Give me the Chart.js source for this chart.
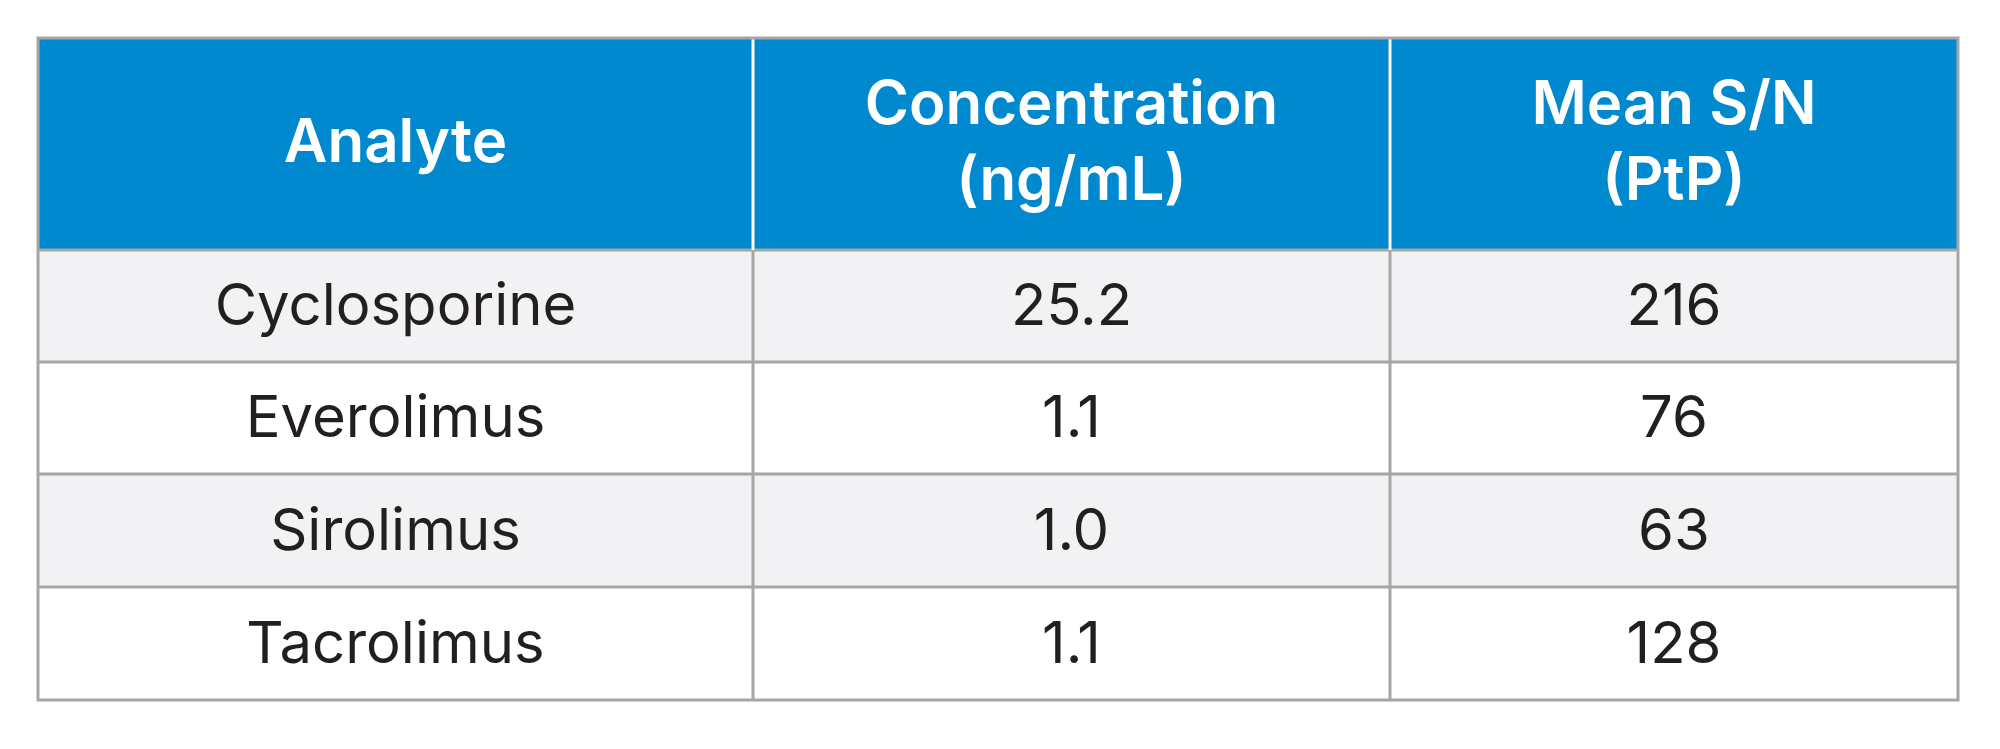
<!DOCTYPE html>
<html><head><meta charset="utf-8">
<script src="https://cdn.jsdelivr.net/npm/chart.js@4/dist/chart.umd.min.js"></script>
<style>html,body{margin:0;padding:0;background:#fff}#w{width:2000px;height:749px}</style>
</head><body><div id="w"><canvas id="c"></canvas></div>
<script>
const headers = [["Analyte"], ["Concentration", "(ng/mL)"], ["Mean S/N", "(PtP)"]];
const analytes = ["Cyclosporine", "Everolimus", "Sirolimus", "Tacrolimus"];
const concentration = ["25.2", "1.1", "1.0", "1.1"];
const meanSN = ["216", "76", "63", "128"];

// layout (table units): column boundaries and row boundaries
const colEdges = [0, 715, 1352, 1920];
const rowEdges = [0, 212, 324, 436, 549, 662];

const tablePlugin = {
  id: 'table',
  afterDraw(chart) {
    const ctx = chart.ctx, xs = chart.scales.x, ys = chart.scales.y;
    const X = v => xs.getPixelForValue(v), Y = v => ys.getPixelForValue(v);
    const cols = [analytes, concentration, meanSN];
    ctx.save();
    // header
    ctx.fillStyle = '#0089cf';
    ctx.fillRect(X(0), Y(0), X(1920) - X(0), Y(212) - Y(0));
    for (let r = 0; r < analytes.length; r++) {
      ctx.fillStyle = r % 2 === 0 ? '#f2f2f4' : '#ffffff';
      ctx.fillRect(X(0), Y(rowEdges[r+1]), X(1920) - X(0), Y(rowEdges[r+2]) - Y(rowEdges[r+1]));
    }
    // grid lines
    ctx.strokeStyle = '#a6a6a6'; ctx.lineWidth = 3;
    for (let r = 1; r < rowEdges.length - 1; r++) {
      ctx.beginPath(); ctx.moveTo(X(0), Y(rowEdges[r])); ctx.lineTo(X(1920), Y(rowEdges[r])); ctx.stroke();
    }
    for (let c = 1; c < colEdges.length - 1; c++) {
      ctx.strokeStyle = '#ffffff';
      ctx.beginPath(); ctx.moveTo(X(colEdges[c]), Y(0)); ctx.lineTo(X(colEdges[c]), Y(212)); ctx.stroke();
      ctx.strokeStyle = '#a6a6a6';
      ctx.beginPath(); ctx.moveTo(X(colEdges[c]), Y(212)); ctx.lineTo(X(colEdges[c]), Y(662)); ctx.stroke();
    }
    ctx.strokeStyle = '#a6a6a6';
    ctx.strokeRect(X(0), Y(0), X(1920) - X(0), Y(662) - Y(0));
    // text
    ctx.textAlign = 'center'; ctx.textBaseline = 'middle';
    ctx.fillStyle = '#ffffff'; ctx.font = '600 60px Inter, Roboto, sans-serif';
    headers.forEach((h, c) => {
      const cx = X((colEdges[c] + colEdges[c+1]) / 2), cy = Y(106);
      const lh = 76;
      h.forEach((line, i) => ctx.fillText(line, cx, cy + (i - (h.length - 1) / 2) * lh));
    });
    ctx.fillStyle = '#231f20'; ctx.font = '400 58px Inter, Roboto, sans-serif';
    cols.forEach((col, c) => col.forEach((v, r) => {
      ctx.fillText(v, X((colEdges[c] + colEdges[c+1]) / 2), Y((rowEdges[r+1] + rowEdges[r+2]) / 2) + 2);
    }));
    ctx.restore();
  }
};

new Chart(document.getElementById('c'), {
  type: 'scatter',
  data: { datasets: [{ data: [] }] },
  options: {
    responsive: true, maintainAspectRatio: false, animation: false,
    layout: { padding: { left: 38, right: 42, top: 38, bottom: 49 } },
    plugins: { legend: { display: false }, tooltip: { enabled: false } },
    scales: {
      x: { type: 'linear', min: 0, max: 1920, display: false },
      y: { type: 'linear', min: 0, max: 662, reverse: true, display: false }
    }
  },
  plugins: [tablePlugin]
});
</script></body></html>
